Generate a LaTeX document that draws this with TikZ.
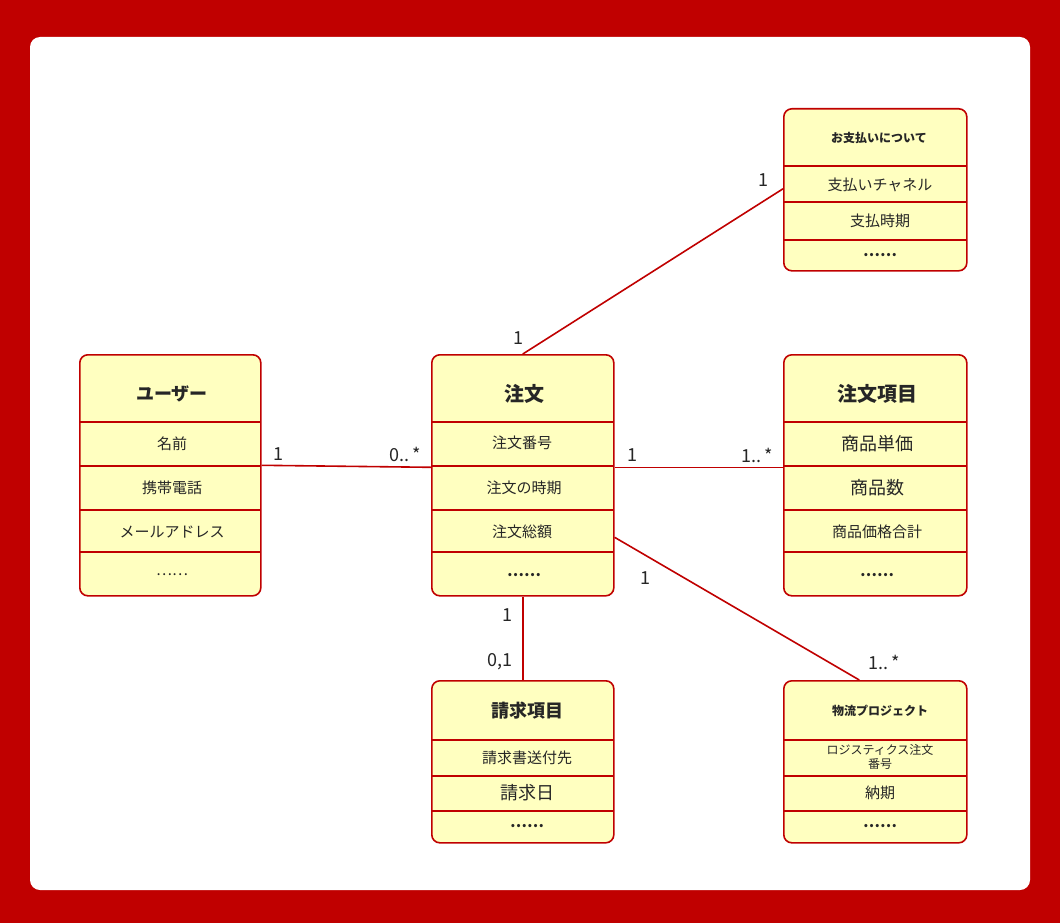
\documentclass[tikz,border=0pt]{standalone}
\usepackage{fontspec}
\setmainfont{Noto Sans CJK JP}
\usetikzlibrary{positioning}
\definecolor{frame}{HTML}{C00000}
\definecolor{cellfill}{HTML}{FFFFC0}
\begin{document}
\begin{tikzpicture}[x=1pt,y=-1pt]
	\tikzstyle{cls} = [draw=frame, fill=cellfill, rounded corners=8pt, line width=1.6pt, anchor=north west, inner sep=0pt];
	\tikzstyle{sep} = [draw=frame, line width=1.6pt];
	\tikzstyle{assoc} = [draw=frame, line width=1.6pt];
	\tikzstyle{mult} = [font={\fontsize{18}{18}\selectfont}, text=black!85];
	\tikzstyle{head} = [font={\bfseries\fontsize{18}{18}\selectfont}, text=black!85];
	\tikzstyle{row} = [font={\fontsize{15}{15}\selectfont}, text=black!85];
	\tikzstyle{dots} = [font={\bfseries\fontsize{15}{15}\selectfont}, text=black!85];

	% frame
	\fill[frame] (0,0) rectangle (1060,923);
	\fill[white, rounded corners=10pt] (30,37) rectangle (1030,890);

	% classes
	\node[cls, minimum width=183pt, minimum height=162pt] (pay) at (783,108) {};
	\node[cls, minimum width=181pt, minimum height=241pt] (user) at (79,354) {};
	\node[cls, minimum width=182pt, minimum height=241pt] (order) at (431,354) {};
	\node[cls, minimum width=183pt, minimum height=241pt] (item) at (783,354) {};
	\node[cls, minimum width=182pt, minimum height=162pt] (bill) at (431,680) {};
	\node[cls, minimum width=183pt, minimum height=162pt] (ship) at (783,680) {};

	% row separators
	\foreach \y in {166,202,240} \draw[sep] (783,\y) -- (966,\y);
	\foreach \y in {422,466,510,552} {
		\draw[sep] (79,\y) -- (260,\y);
		\draw[sep] (431,\y) -- (613,\y);
		\draw[sep] (783,\y) -- (966,\y);
	}
	\foreach \y in {740,776,811} {
		\draw[sep] (431,\y) -- (613,\y);
		\draw[sep] (783,\y) -- (966,\y);
	}

	% texts
	\node[head, font={\bfseries\fontsize{12}{12}\selectfont}] (payh) at (879,138) {お支払いについて};
	\node[row] (pay1) at (880,185) {支払いチャネル};
	\node[row] (pay2) at (880,221) {支払時期};
	\node[dots] (pay3) at (880,255) {……};

	\node[head] (userh) at (172,394) {ユーザー};
	\node[row] (user1) at (172,444) {名前};
	\node[row] (user2) at (172,488) {携帯電話};
	\node[row] (user3) at (172,532) {メールアドレス};
	\node[row] (user4) at (172,575) {……};

	\node[head, font={\bfseries\fontsize{20}{20}\selectfont}] (orderh) at (524,394) {注文};
	\node[row] (order1) at (522,443) {注文番号};
	\node[row] (order2) at (524,488) {注文の時期};
	\node[row] (order3) at (522,532) {注文総額};
	\node[dots] (order4) at (524,575) {……};

	\node[head, font={\bfseries\fontsize{20}{20}\selectfont}] (itemh) at (877,394) {注文項目};
	\node[row, font={\fontsize{18}{18}\selectfont}] (item1) at (877,444) {商品単価};
	\node[row, font={\fontsize{18}{18}\selectfont}] (item2) at (877,488) {商品数};
	\node[row] (item3) at (877,532) {商品価格合計};
	\node[dots] (item4) at (877,575) {……};

	\node[head] (billh) at (527,711) {請求項目};
	\node[row] (bill1) at (527,758) {請求書送付先};
	\node[row, font={\fontsize{18}{18}\selectfont}] (bill2) at (527,793) {請求日};
	\node[dots] (bill3) at (527,826) {……};

	\node[head, font={\bfseries\fontsize{12}{12}\selectfont}] (shiph) at (880,711) {物流プロジェクト};
	\node[row, font={\fontsize{12}{14}\selectfont}, align=center] (ship1) at (880,757) {ロジスティクス注文\\番号};
	\node[row] (ship2) at (880,793) {納期};
	\node[dots] (ship3) at (880,826) {……};

	% associations
	\draw[assoc] (order.north) -- ([yshift=1pt]pay.west);
	\draw[assoc] ([yshift=10pt]user.east) -- ([yshift=8pt]order.west);
	\draw[assoc] ([yshift=8pt]order.east) -- ([yshift=8pt]item.west);
	\draw[assoc] ([yshift=-62pt]order.east) -- ([xshift=-16pt]ship.north);
	\draw[assoc] (order.south) -- (bill.north);

	% multiplicities
	\node[mult] (m1) at (763,180) {1};
	\node[mult] (m2) at (518,338) {1};
	\node[mult] (m3) at (278,454) {1};
	\node[mult] (m4) at (405,454) {0..\,*};
	\node[mult] (m5) at (632,455) {1};
	\node[mult] (m6) at (757,455) {1..\,*};
	\node[mult] (m7) at (645,578) {1};
	\node[mult] (m8) at (884,662) {1..\,*};
	\node[mult] (m9) at (507,615) {1};
	\node[mult] (m10) at (500,662) {0,1};
\end{tikzpicture}
\end{document}
